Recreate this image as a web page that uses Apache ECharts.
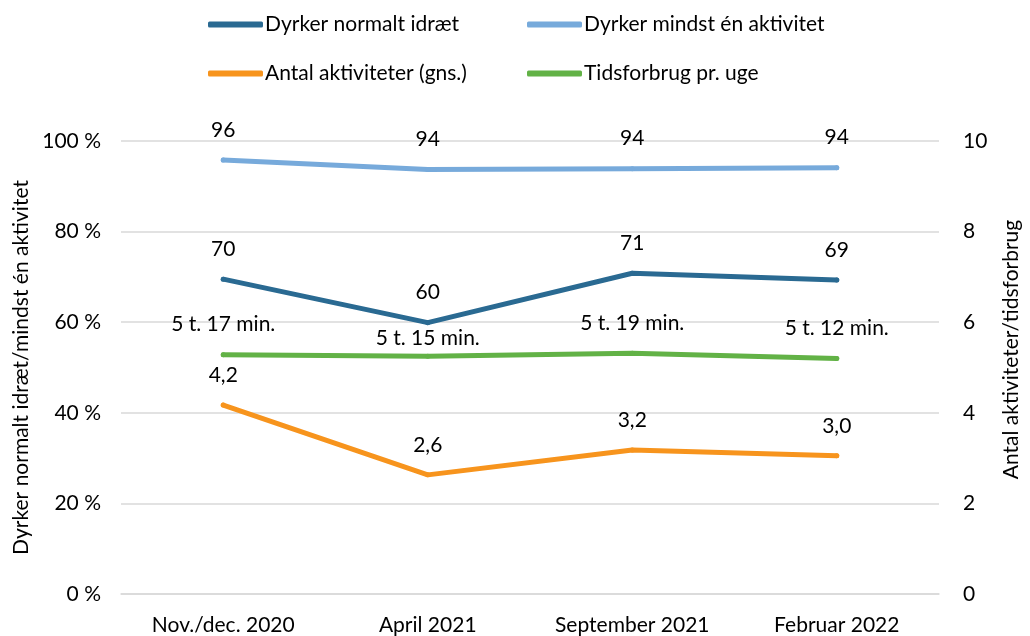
<!DOCTYPE html>
<html>
<head>
<meta charset="utf-8">
<script src="https://cdn.jsdelivr.net/npm/echarts@6/dist/echarts.min.js"></script>
<style>
  html, body { margin: 0; padding: 0; background: #fff; }
  #chart { width: 1030px; height: 636px; }
</style>
</head>
<body>
<div id="chart"></div>
<script>
// kategorier (x-akse)
const perioder = ["Nov./dec. 2020", "April 2021", "September 2021", "Februar 2022"];

// venstre akse, procent
const normaltIdraet = [69.5, 59.9, 70.8, 69.3];
const mindstEnAktivitet = [95.8, 93.7, 93.9, 94.1];

// højre akse
const antalAktiviteter = [4.17, 2.63, 3.18, 3.05];
const tidsforbrugTimer = [5.283, 5.25, 5.317, 5.2]; // timer pr. uge

const venstreTicks = [0, 20, 40, 60, 80, 100];
const hoejreTicks = [0, 2, 4, 6, 8, 10];

const font = "Lato";
const fs = 21;
const chart = echarts.init(document.getElementById("chart"));

// label formattering
const heltal = (p) => Math.round(p.value);
const decimal = (p) => p.value.toFixed(1).replace(".", ",");
const tid = (p) => {
  const total = Math.round(p.value * 60);
  return Math.floor(total / 60) + " t. " + (total % 60) + " min.";
};

function linje(name, data, color, yAxisIndex, formatter) {
  return {
    name: name,
    type: "line",
    yAxisIndex: yAxisIndex,
    data: data,
    symbol: "circle",
    symbolSize: 5,
    showSymbol: true,
    itemStyle: { color: color },
    lineStyle: { color: color, width: 5, cap: "round", join: "round" },
    label: {
      show: true,
      position: "top",
      distance: 17,
      formatter: formatter,
      color: "#000",
      fontFamily: font,
      fontSize: fs,
    },
    emphasis: { disabled: true },
    animation: false,
  };
}

const tidSerie = linje("Tidsforbrug pr. uge", tidsforbrugTimer, "#62B246", 1, tid);
// April-label er flyttet ned i originalen
tidSerie.data = tidsforbrugTimer.map((v, i) =>
  i === 1 ? { value: v, label: { distance: 5 } } : v
);

// en legend pr. serie, så kolonnerne flugter
function legende(navn, left, top) {
  return {
    data: [navn],
    left: left,
    top: top,
    itemWidth: 55,
    itemHeight: 6,
    itemGap: 0,
    icon: "roundRect",
    textStyle: { fontFamily: font, fontSize: fs, color: "#000", padding: [0, 0, 0, -3] },
  };
}

const options = {
  backgroundColor: "#fff",
  grid: { left: 121, right: 83, top: 141, bottom: 39 },
  legend: [
    legende("Dyrker normalt idræt", 203, 9),
    legende("Dyrker mindst én aktivitet", 522, 9),
    legende("Antal aktiviteter (gns.)", 203, 58),
    legende("Tidsforbrug pr. uge", 522, 58),
  ],
  xAxis: {
    type: "category",
    data: perioder,
    axisLine: { show: true, lineStyle: { color: "#d9d9d9", width: 1.5 } },
    axisTick: { show: false },
    axisLabel: { color: "#000", fontFamily: font, fontSize: fs, margin: 21 },
  },
  yAxis: [
    {
      type: "value",
      min: venstreTicks[0],
      max: venstreTicks[venstreTicks.length - 1],
      interval: 20,
      name: "Dyrker normalt idræt/mindst én aktivitet",
      nameLocation: "middle",
      nameGap: 88,
      nameRotate: 90,
      nameTextStyle: { color: "#000", fontFamily: font, fontSize: fs },
      axisLine: { show: false },
      axisTick: { show: false },
      axisLabel: {
        color: "#000",
        fontFamily: font,
        fontSize: fs,
        margin: 20,
        formatter: (v) => v + " %",
      },
      splitLine: { lineStyle: { color: "#d9d9d9", width: 1.5 } },
    },
    {
      type: "value",
      min: hoejreTicks[0],
      max: hoejreTicks[hoejreTicks.length - 1],
      interval: 2,
      position: "right",
      name: "Antal aktiviteter/tidsforbrug",
      nameLocation: "middle",
      nameGap: 62,
      nameRotate: 90,
      nameTextStyle: { color: "#000", fontFamily: font, fontSize: fs, padding: [0, 0, 0, 36] },
      axisLine: { show: false },
      axisTick: { show: false },
      axisLabel: { color: "#000", fontFamily: font, fontSize: fs, margin: 24 },
      splitLine: { show: false },
    },
  ],
  series: [
    linje("Dyrker normalt idræt", normaltIdraet, "#2A6A92", 0, heltal),
    linje("Dyrker mindst én aktivitet", mindstEnAktivitet, "#77AADB", 0, heltal),
    linje("Antal aktiviteter (gns.)", antalAktiviteter, "#F7941D", 1, decimal),
    tidSerie,
  ],
};

chart.setOption(options);
</script>
</body>
</html>
